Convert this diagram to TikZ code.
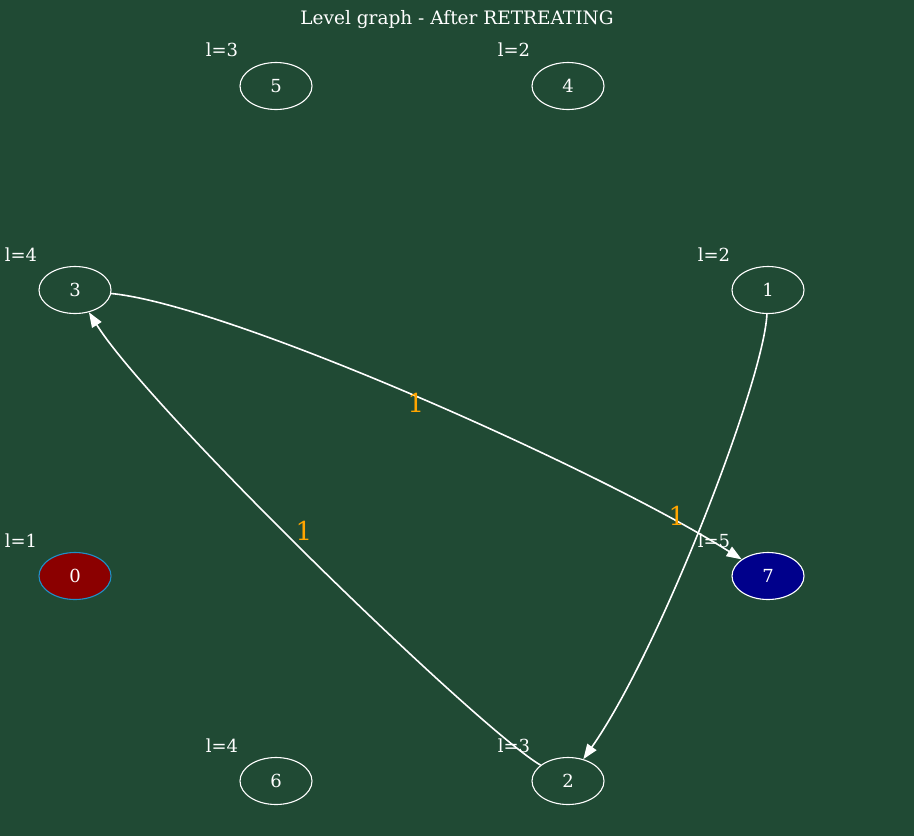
\documentclass[tikz,border=0pt]{standalone}
\usepackage{fontspec}
\setmainfont{DejaVu Serif}
\usetikzlibrary{arrows.meta,shapes.geometric}
\definecolor{bg}{RGB}{32,74,52}
\definecolor{edgeorange}{RGB}{255,165,0}
\definecolor{darkred}{RGB}{139,0,0}
\definecolor{darkblue}{RGB}{0,0,139}
\definecolor{rimblue}{RGB}{30,144,200}
\tikzset{
  gnode/.style={ellipse,draw=white,line width=1.1pt,minimum width=72pt,minimum height=47pt,inner sep=0pt,text=white,font=\fontsize{18}{20}\selectfont},
  lvl/.style={text=white,font=\fontsize{18}{20}\selectfont,inner sep=0pt},
  elab/.style={text=edgeorange,font=\fontsize{26}{28}\selectfont,inner sep=0pt},
  gedge/.style={draw=white,line width=1.6pt,-{Triangle[length=15pt,width=11pt]}},
}
\begin{document}
\begin{tikzpicture}[x=1pt,y=-1pt]
\fill[bg] (0,0) rectangle (914,836);
\useasboundingbox (0,0) rectangle (914,836);
\node[text=white,font=\fontsize{18.5}{20}\selectfont,inner sep=0pt] (title) at (457,20) {Level graph - After RETREATING};
\node[gnode] (n5) at (276,86) {5};
\node[gnode] (n4) at (568,86) {4};
\node[gnode] (n3) at (75,290) {3};
\node[gnode] (n1) at (768,290) {1};
\node[gnode,fill=darkred,draw=rimblue] (n0) at (75,576) {0};
\node[gnode,fill=darkblue] (n7) at (768,576) {7};
\node[gnode] (n6) at (276,781) {6};
\node[gnode] (n2) at (568,781) {2};
\node[lvl] (l5) at (222,50) {l=3};
\node[lvl] (l4) at (514,50) {l=2};
\node[lvl] (l3) at (21,255) {l=4};
\node[lvl] (l1) at (714,255) {l=2};
\node[lvl] (l0) at (21,541) {l=1};
\node[lvl] (l7) at (714,541) {l=5};
\node[lvl] (l6) at (222,746) {l=4};
\node[lvl] (l2) at (514,746) {l=3};
\draw[gedge] (n3) .. controls (230,305) and (600,470) .. (n7);
\draw[gedge] (n1) .. controls (764,380) and (660,650) .. (n2);
\draw[gedge] (n2) .. controls (480,730) and (150,410) .. (n3);
\node[elab] (e37) at (416,403) {1};
\node[elab] (e12) at (677,516) {1};
\node[elab] (e23) at (304,531) {1};
\end{tikzpicture}
\end{document}
